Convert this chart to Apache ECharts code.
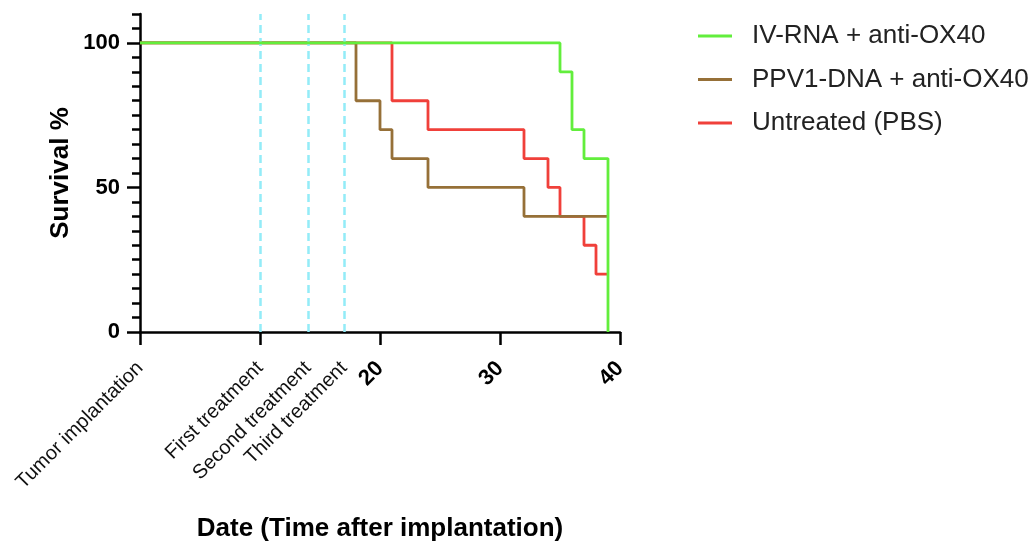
<!DOCTYPE html>
<html>
<head>
<meta charset="utf-8">
<script src="https://cdn.jsdelivr.net/npm/echarts@6/dist/echarts.min.js"></script>
<style>
html,body{margin:0;padding:0;background:#fff;}
#chart{width:1035px;height:547px;}
</style>
</head>
<body>
<div id="chart"></div>
<script>
// ---- data ----
const seriesNames = ['IV-RNA + anti-OX40', 'PPV1-DNA + anti-OX40', 'Untreated (PBS)'];
const ivRnaDays = [0, 35, 36, 37, 39];
const ivRnaSurvival = [100, 90, 70, 60, 0];
const ppv1Days = [0, 18, 20, 21, 24, 32, 39];
const ppv1Survival = [100, 80, 70, 60, 50, 40, 40];
const pbsDays = [0, 21, 24, 32, 34, 35, 37, 38, 39];
const pbsSurvival = [100, 80, 70, 60, 50, 40, 30, 20, 20];
const treatmentDays = [10, 14, 17];
const xLabelValues = [0, 10, 14, 17, 20, 30, 40];
const xLabelTexts = ['Tumor implantation', 'First treatment', 'Second treatment', 'Third treatment', '20', '30', '40'];
const xTickValues = [0, 10, 20, 30, 40];
const yMajorTicks = [0, 50, 100];
const yMinorTicks = [5, 10, 15, 20, 25, 30, 35, 40, 45, 55, 60, 65, 70, 75, 80, 85, 90, 95, 105, 110];

const FONT = '"Liberation Sans", Arial, sans-serif';
const colors = ['#62ee3c', '#967038', '#f0403a'];

function pairs(xs, ys) { return xs.map((x, i) => [x, ys[i]]); }

const chart = echarts.init(document.getElementById('chart'));
chart.setOption({
  animation: false,
  textStyle: { fontFamily: FONT },
  grid: { left: 140, right: 415, top: 14, bottom: 212, containLabel: false },
  legend: {
    orient: 'vertical',
    left: 698,
    top: 23,
    padding: 0,
    icon: 'rect',
    itemWidth: 34,
    itemHeight: 3,
    itemGap: 17.5,
    data: seriesNames,
    textStyle: { fontFamily: FONT, fontSize: 26, color: '#222', padding: [0, 0, 0, 15], lineHeight: 26 }
  },
  xAxis: {
    type: 'value',
    min: 0,
    max: 40,
    name: 'Date (Time after implantation)',
    nameLocation: 'middle',
    nameGap: 184,
    nameTextStyle: { fontFamily: FONT, fontSize: 26, fontWeight: 'bold', color: '#000' },
    splitLine: { show: false },
    axisLine: { show: true, onZero: false, lineStyle: { color: '#000', width: 2.5 } },
    axisTick: { show: true, customValues: xTickValues, length: 13, lineStyle: { color: '#000', width: 2.5 } },
    axisLabel: {
      customValues: xLabelValues,
      rotate: 45,
      margin: 33,
      formatter: function (v) {
        const i = xLabelValues.indexOf(v);
        const t = i >= 0 ? xLabelTexts[i] : '';
        return /^\d+$/.test(t) ? '{b|' + t + '}' : '{t|' + t + '}';
      },
      rich: {
        b: { fontFamily: FONT, fontSize: 22, fontWeight: 'bold', color: '#000' },
        t: { fontFamily: FONT, fontSize: 20, color: '#111' }
      }
    }
  },
  yAxis: [{
    type: 'value',
    min: 0,
    max: 110,
    name: 'Survival %',
    nameLocation: 'middle',
    nameGap: 66,
    nameTextStyle: { fontFamily: FONT, fontSize: 26, fontWeight: 'bold', color: '#000' },
    splitLine: { show: false },
    axisLine: { show: true, lineStyle: { color: '#000', width: 2.5 } },
    axisTick: { show: true, customValues: yMajorTicks, length: 13, lineStyle: { color: '#000', width: 2.5 } },
    axisLabel: { customValues: yMajorTicks, margin: 20, fontFamily: FONT, fontSize: 22, fontWeight: 'bold', color: '#000' }
  }, {
    type: 'value',
    min: 0,
    max: 110,
    position: 'left',
    splitLine: { show: false },
    axisLine: { show: false },
    axisTick: { show: true, customValues: yMinorTicks, length: 8, lineStyle: { color: '#000', width: 2.5 } },
    axisLabel: { show: false }
  }],
  series: [
    {
      name: seriesNames[0], type: 'line', step: 'end', z: 5,
      data: pairs(ivRnaDays, ivRnaSurvival),
      showSymbol: false, symbol: 'none',
      lineStyle: { color: colors[0], width: 2.8 }, itemStyle: { color: colors[0] },
      markLine: {
        silent: true, symbol: 'none', label: { show: false },
        lineStyle: { color: '#93ecf8', type: [8, 5], width: 2.5 },
        data: treatmentDays.map(d => ({ xAxis: d }))
      }
    },
    {
      name: seriesNames[1], type: 'line', step: 'end', z: 4,
      data: pairs(ppv1Days, ppv1Survival),
      showSymbol: false, symbol: 'none',
      lineStyle: { color: colors[1], width: 2.8 }, itemStyle: { color: colors[1] }
    },
    {
      name: seriesNames[2], type: 'line', step: 'end', z: 3,
      data: pairs(pbsDays, pbsSurvival),
      showSymbol: false, symbol: 'none',
      lineStyle: { color: colors[2], width: 2.8 }, itemStyle: { color: colors[2] }
    }
  ]
});
</script>
</body>
</html>
